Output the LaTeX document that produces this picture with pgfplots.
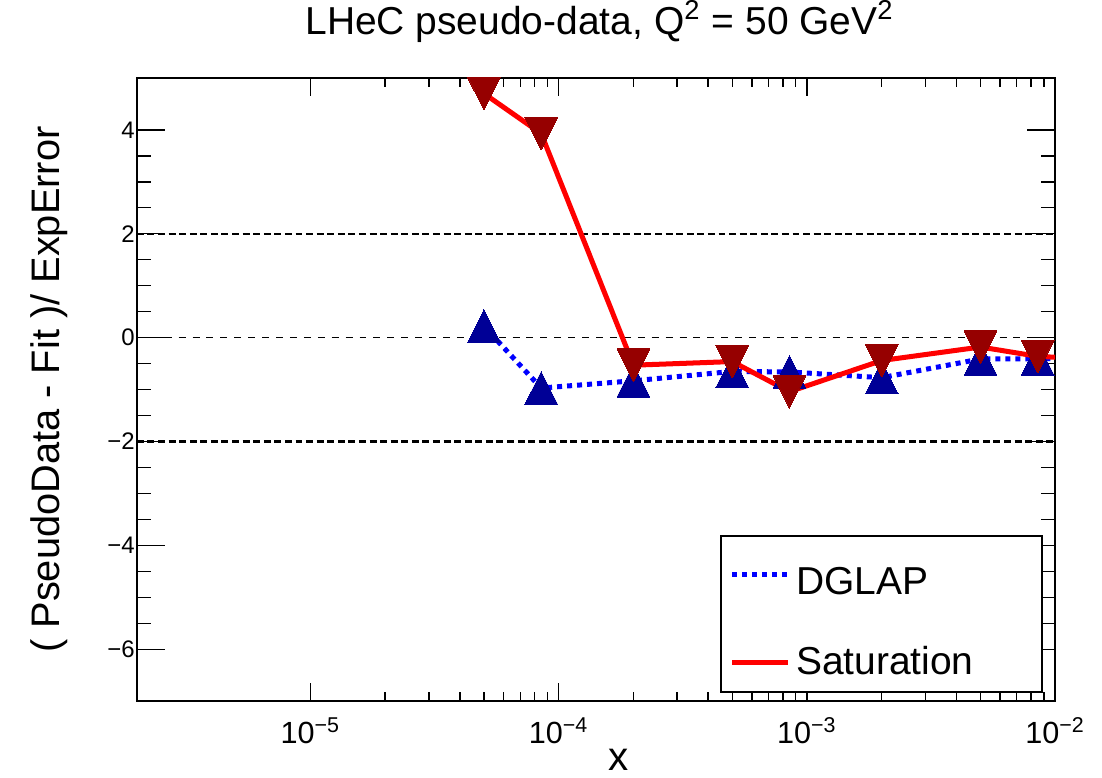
\documentclass[border=0pt]{standalone}
\usepackage{fontspec}
\setmainfont{Liberation Sans}
\usepackage{pgfplots}
\pgfplotsset{compat=1.18}
\definecolor{dglapline}{RGB}{0,0,255}
\definecolor{dglapmark}{RGB}{0,0,150}
\definecolor{satline}{RGB}{255,0,0}
\definecolor{satmark}{RGB}{150,0,0}

% residuals
\pgfplotstableread{
x        y
5e-5     0.22
8.5e-5  -0.97
2e-4    -0.83
5e-4    -0.65
8.5e-4  -0.66
2e-3    -0.77
5e-3    -0.41
8.5e-3  -0.41
1.5e-2  -0.37
}\dglap
\pgfplotstableread{
x        y
5e-5     4.70
8.5e-5   3.93
2e-4    -0.53
5e-4    -0.46
8.5e-4  -1.04
2e-3    -0.44
5e-3    -0.18
8.5e-3  -0.36
1.5e-2  -0.42
}\saturation

\begin{document}
\begin{tikzpicture}
% page = 1102x776 px, axis box = 918x622 px at (137,78)
\useasboundingbox (-49.2pt,-27.3pt) rectangle (346.8pt,252pt);
\begin{axis}[
  at={(0pt,0pt)}, anchor=south west,
  scale only axis,
  width=330pt, height=224pt,
  xmode=log, xmin=2e-6, xmax=1e-2,
  ymin=-7, ymax=5,
  xtick={1e-5,1e-4,1e-3,1e-2},
  xticklabels={10\textsuperscript{−5},10\textsuperscript{−4},10\textsuperscript{−3},10\textsuperscript{−2}},
  ytick={-6,-4,-2,0,2,4},
  yticklabels={−6,−4,−2,0,2,4},
  minor y tick num=3,
  tick align=inside,
  tick pos=both,
  axis line style={line width=0.7pt},
  every tick/.style={black, line width=0.5pt},
  xtick style={/pgfplots/major tick length=6.5pt, /pgfplots/minor tick length=3.3pt},
  ytick style={/pgfplots/major tick length=10pt, /pgfplots/minor tick length=5pt},
  xticklabel style={font=\fontsize{11}{13}\selectfont, anchor=base, yshift=-15.1pt},
  yticklabel style={font=\fontsize{8.6}{10}\selectfont, inner xsep=0.6pt},
  title={LHeC pseudo-data, Q\textsuperscript{2} = 50 GeV\textsuperscript{2}},
  title style={font=\fontsize{14}{16}\selectfont, inner sep=0pt, at={(axis description cs:0.504,1.043)}, anchor=base},
  ylabel={( PseudoData - Fit )/ ExpError},
  ylabel style={font=\fontsize{14.3}{16}\selectfont, inner sep=0pt, at={(axis description cs:-0.096,0.5)}, anchor=center},
  xlabel={x},
  xlabel style={font=\fontsize{14.5}{16}\selectfont, inner sep=0pt, at={(axis description cs:0.525,-0.094)}, anchor=center},
  legend style={at={(axis description cs:0.987,0.013)}, anchor=south east,
    draw=black, line width=0.7pt, font=\fontsize{14}{16}\selectfont,
    inner xsep=3pt, inner ysep=3pt, row sep=13pt},
  legend cell align=left,
  legend image code/.code={\draw[#1] (0pt,0pt) -- (20pt,0pt);},
]
% reference lines
\addplot[forget plot, black, line width=0.9pt, dash pattern=on 2.5pt off 1.3pt] coordinates {(2e-6,2) (1e-2,2)};
\addplot[forget plot, black, line width=0.9pt, dash pattern=on 2.5pt off 1.3pt] coordinates {(2e-6,-2) (1e-2,-2)};
\addplot[forget plot, black, line width=0.5pt, dash pattern=on 2.5pt off 2.5pt] coordinates {(2e-6,0) (1e-2,0)};
% lines
\addplot[dglapline, line width=1.8pt, dash pattern=on 1.8pt off 1.8pt, mark=none] table {\dglap};
\addlegendentry{\makebox[83.5pt][l]{\rule{0pt}{16pt}DGLAP}}
\addplot[satline, line width=1.8pt, mark=none] table {\saturation};
\addlegendentry{\makebox[83.5pt][l]{Saturation}}
% markers
\addplot[forget plot, only marks, mark=triangle*, mark size=6.8pt,
  mark options={solid, fill=dglapmark, draw=dglapmark, line width=0pt, yshift=-1.95pt, yscale=1.15}] table {\dglap};
\addplot[forget plot, only marks, mark=triangle*, mark size=6.8pt,
  mark options={solid, fill=satmark, draw=satmark, line width=0pt, yshift=1.95pt, rotate=180, yscale=1.15}] table {\saturation};
\end{axis}
\end{tikzpicture}
\end{document}
